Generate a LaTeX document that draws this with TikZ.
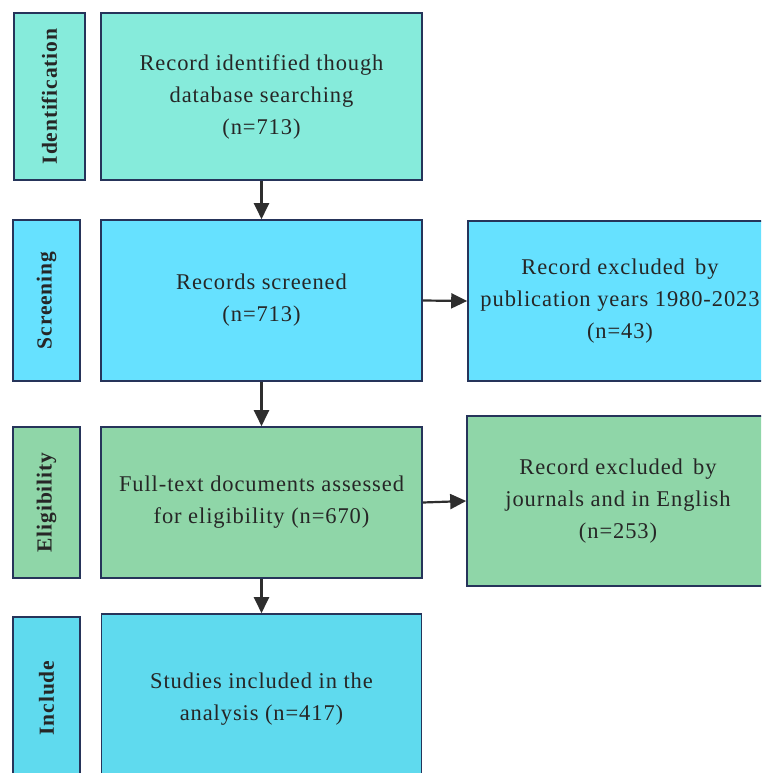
\documentclass[tikz,border=0pt]{standalone}
\usepackage{fontspec}
\setmainfont{Liberation Serif}[LetterSpace=4]
\usetikzlibrary{arrows.meta}
\definecolor{cid}{HTML}{86EBDB}
\definecolor{csc}{HTML}{66E1FF}
\definecolor{cel}{HTML}{8FD6A8}
\definecolor{cin}{HTML}{5FDAEE}
\definecolor{cbd}{HTML}{26345A}
\definecolor{carr}{HTML}{2E2E2E}
\tikzset{
  x=1pt,y=-1pt,
  box/.style={draw=cbd,line width=1.6pt,rectangle,align=center,inner sep=0pt,
    font=\fontsize{22.5}{32}\selectfont,text=black!85},
  side/.style={draw=cbd,line width=1.6pt,rectangle,inner sep=0pt},
  sidetext/.style={rotate=90,font=\fontsize{21.5}{24}\selectfont\bfseries,text=black!85},
  arr/.style={draw=carr,line width=2.2pt,-{Triangle[length=16pt,width=15pt]}}
}
\begin{document}
\begin{tikzpicture}
\useasboundingbox (0,0) rectangle (761,773);
\begin{scope}
\clip (0,0) rectangle (761,773);
% side boxes
\node[side,fill=cid,minimum width=71pt,minimum height=167pt] (sid) at (49.5,96.5) {};
\node[sidetext] (tid) at (sid.center) {Identification};
\node[side,fill=csc,minimum width=67pt,minimum height=161pt] (ssc) at (46.5,300.5) {};
\node[sidetext] (tsc) at (ssc.center) {Screening};
\node[side,fill=cel,minimum width=67pt,minimum height=151pt] (sel) at (46.5,502.5) {};
\node[sidetext] (tel) at (sel.center) {Eligibility};
\node[side,fill=cin,minimum width=67pt,minimum height=173pt] (sin) at (46.5,703.5) {};
\node[sidetext] (tin) at (46.5,698) {Include};
% main boxes
\node[box,fill=cid,minimum width=321pt,minimum height=167pt] (bid) at (261.5,96.5)
  {Record identified though\\database searching\\(n=713)};
\node[box,fill=csc,minimum width=321pt,minimum height=161pt] (bsc) at (261.5,300.5)
  {Records screened\\(n=713)};
\node[box,fill=cel,minimum width=321pt,minimum height=151pt] (bel) at (261.5,502.5)
  {Full-text documents assessed\\for eligibility (n=670)};
\node[box,fill=cin,minimum width=320pt,minimum height=170pt] (bin) at (261.5,699)
  {Studies included in the\\analysis (n=417)};
\node[box,fill=csc,minimum width=304pt,minimum height=160pt] (ex1) at (620,301)
  {Record excluded\, by\\publication years 1980-2023\\(n=43)};
\node[box,fill=cel,minimum width=302pt,minimum height=170pt] (ex2) at (618,501)
  {Record excluded\, by\\journals and in English\\(n=253)};
% arrows
\draw[arr] (bid.south) -- (bsc.north);
\draw[arr] (bsc.south) -- (bel.north);
\draw[arr] (bel.south) -- (bin.north);
\draw[arr] (bsc.east) -- (ex1.west);
\draw[arr] (bel.east) -- (ex2.west);
\end{scope}
\end{tikzpicture}
\end{document}
